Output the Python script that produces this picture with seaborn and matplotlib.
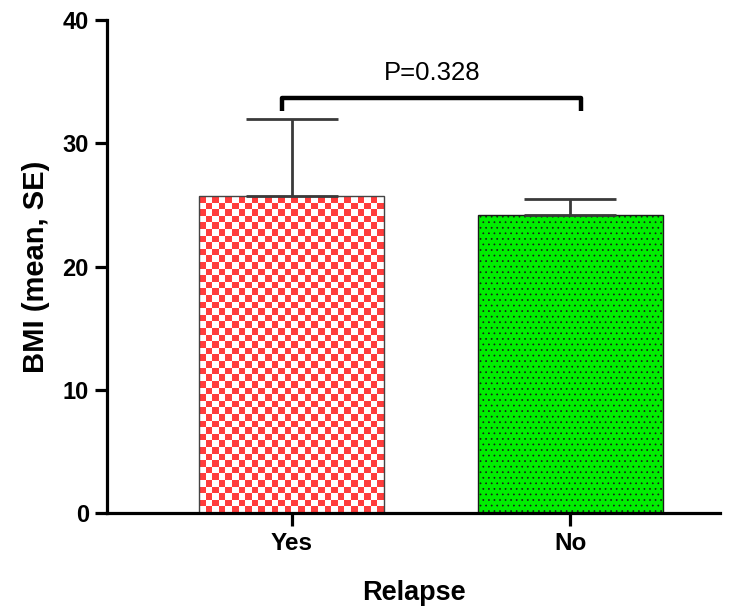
"""BMI by relapse status bar chart."""

import matplotlib
matplotlib.use("Agg")
import matplotlib.pyplot as plt
import numpy as np
import pandas as pd
import seaborn as sns

# Data
groups = ["Yes", "No"]
bmi_mean = [25.7, 24.2]
bmi_se = [6.3, 1.3]
p_text = "P=0.328"

df = pd.DataFrame({"Relapse": groups, "BMI": bmi_mean})

sns.set_style("ticks")
plt.rcParams["font.family"] = ["Liberation Sans", "DejaVu Sans"]
plt.rcParams["hatch.color"] = "#1f5a1f"
plt.rcParams["hatch.linewidth"] = 0.5
plt.rcParams["text.color"] = "black"
plt.rcParams["axes.labelcolor"] = "black"
plt.rcParams["xtick.color"] = "black"
plt.rcParams["ytick.color"] = "black"

fig = plt.figure(figsize=(7.48, 6.10), dpi=100)
ax = fig.add_axes([0.143, 0.159, 0.82, 0.808])

sns.barplot(data=df, x="Relapse", y="BMI", order=groups, width=0.665,
            color="white", edgecolor="#444444", linewidth=1.0, errorbar=None, ax=ax)

bars = ax.patches
# Yes bar: red/white checkerboard clipped to the bar
yes_bar = bars[0]
x0, y0 = yes_bar.get_x(), yes_bar.get_y()
w, h = yes_bar.get_width(), yes_bar.get_height()
n_cols, n_rows = 28, 48
checker = (np.add.outer(np.arange(n_rows), np.arange(n_cols)) % 2).astype(float)
cmap = matplotlib.colors.ListedColormap(["#ff3c3c", "white"])
im = ax.imshow(checker, cmap=cmap, extent=(x0, x0 + w, y0, y0 + h),
               aspect="auto", interpolation="nearest", zorder=yes_bar.get_zorder() - 0.1)
im.set_clip_path(yes_bar)
yes_bar.set_facecolor("none")
yes_bar.set_zorder(yes_bar.get_zorder() + 0.2)

# No bar: green with dark dots
no_bar = bars[1]
no_bar.set_facecolor("#00ee00")
no_bar.set_hatch("...")
no_bar.set_edgecolor("#1a1a1a")

# Upper-only SE error bars
centers = [b.get_x() + b.get_width() / 2 for b in bars]
ax.errorbar(centers, bmi_mean, yerr=[[0] * len(bmi_se), bmi_se], fmt="none",
            ecolor="#3a3a3a", elinewidth=2.0, capsize=33, capthick=2.0, zorder=1.5)

# Significance bracket
br_y, br_drop = 33.7, 1.1
ax.plot([-0.035, -0.035, 1.04, 1.04], [br_y - br_drop, br_y, br_y, br_y - br_drop],
        color="black", linewidth=3.2, solid_capstyle="butt", zorder=5)
ax.text((-0.035 + 1.04) / 2, br_y + 1.0, p_text, ha="center", va="bottom",
        fontsize=18.5, color="black")

ax.set_ylim(0, 40)
ax.set_yticks([0, 10, 20, 30, 40])
ax.set_xlim(-0.665, 1.54)

sns.despine(ax=ax)
for side in ["left", "bottom"]:
    ax.spines[side].set_linewidth(2.3)
    ax.spines[side].set_color("black")
ax.tick_params(axis="both", width=2.3, length=9, color="black", labelcolor="black",
               labelsize=17, pad=4)
for lbl in ax.get_xticklabels() + ax.get_yticklabels():
    lbl.set_fontweight("bold")
ax.tick_params(axis="x", pad=5, labelsize=17.5)

ax.set_ylabel("BMI (mean, SE)", fontsize=21, fontweight="bold", labelpad=9, color="black")
ax.set_xlabel("Relapse", fontsize=19.5, fontweight="bold", labelpad=18, color="black")

fig.savefig("out.png", dpi=100)
plt.close(fig)
